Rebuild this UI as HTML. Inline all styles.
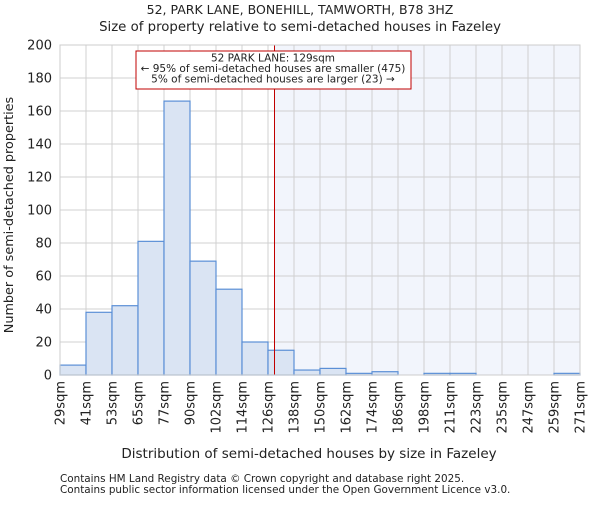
<!DOCTYPE html>
<html><head><meta charset="utf-8"><style>
body{margin:0;background:#fff;}
svg text{font-family:"DejaVu Sans","Liberation Sans",sans-serif;fill:#222;}
</style></head><body>
<svg id="chart" width="600" height="500" viewBox="0 0 600 500">
<text x="300" y="14" font-size="12.5" text-anchor="middle">52, PARK LANE, BONEHILL, TAMWORTH, B78 3HZ</text>
<text x="300" y="31" font-size="13.3" text-anchor="middle">Size of property relative to semi-detached houses in Fazeley</text>
<g id="plot"></g>
<text x="309" y="458" font-size="13.5" text-anchor="middle">Distribution of semi-detached houses by size in Fazeley</text>
<text transform="translate(13,215) rotate(-90)" font-size="12.8" text-anchor="middle">Number of semi-detached properties</text>
<text x="60" y="482" font-size="10.4" fill="#444">Contains HM Land Registry data © Crown copyright and database right 2025.</text>
<text x="60" y="493" font-size="10.4" fill="#444">Contains public sector information licensed under the Open Government Licence v3.0.</text>
</svg>
<script>
const binLabels=["29sqm","41sqm","53sqm","65sqm","77sqm","90sqm","102sqm","114sqm","126sqm","138sqm","150sqm","162sqm","174sqm","186sqm","198sqm","211sqm","223sqm","235sqm","247sqm","259sqm","271sqm"];
const binStarts=[29,41,53,65,77,90,102,114,126,138,150,162,174,186,198,211,223,235,247,259,271];
const counts=[6,38,42,81,166,69,52,20,15,3,4,1,2,0,1,1,0,0,0,1];
const yTicks=[0,20,40,60,80,100,120,140,160,180,200];
const markerSize=129;
const annotLines=["52 PARK LANE: 129sqm","← 95% of semi-detached houses are smaller (475)","5% of semi-detached houses are larger (23) →"];

const NS="http://www.w3.org/2000/svg";
const g=document.getElementById('plot');
const X0=60,X1=580,Y0=375,Y1=45,YMAX=200;
const nb=counts.length;
const bw=(X1-X0)/nb;
const xi=i=>X0+i*bw;
const y=v=>Y0-(v/YMAX)*(Y0-Y1);
function xv(v){for(let i=0;i<nb;i++){if(v>=binStarts[i]&&v<=binStarts[i+1])return xi(i)+bw*(v-binStarts[i])/(binStarts[i+1]-binStarts[i]);}return X1;}
function mk(t,a){const e=document.createElementNS(NS,t);for(const k in a)e.setAttribute(k,a[k]);g.appendChild(e);return e;}
const mx=xv(markerSize);
let e=mk('rect',{x:mx,y:Y1,width:X1-mx,height:Y0-Y1,fill:'#eef2fb',opacity:0.75});


yTicks.forEach(t=>{const l=mk('line',{x1:X0,x2:X1,y1:y(t),y2:y(t),stroke:'#d0d0d0','stroke-width':1});


const tx=mk('text',{x:X0-8,y:y(t)+4.5,'font-size':13,'text-anchor':'end'});tx.textContent=t;

});
for(let i=0;i<=nb;i++){const l=mk('line',{x1:xi(i),x2:xi(i),y1:Y1,y2:Y0,stroke:'#d0d0d0','stroke-width':1});

}
counts.forEach((c,i)=>{if(c<=0)return;const r=mk('rect',{x:xi(i),y:y(c),width:bw,height:Y0-y(c),fill:'#dae4f3',stroke:'#5b8fd6','stroke-width':1.2});

});
binLabels.forEach((lb,i)=>{const t=mk('text',{transform:`translate(${xi(i)+4.5},381) rotate(-90)`,'font-size':13,'text-anchor':'end'});t.textContent=lb;

});
e=mk('line',{x1:mx,x2:mx,y1:Y1,y2:Y0,stroke:'#c00000','stroke-width':1});


e=mk('rect',{x:136,y:51,width:275,height:38,fill:'#fff',stroke:'#c00000','stroke-width':1});


annotLines.forEach((s,k)=>{const t=mk('text',{x:273,y:61.5+k*10.5,'font-size':10.5,'text-anchor':'middle'});t.textContent=s;

});
e=mk('rect',{x:X0,y:Y1,width:X1-X0,height:Y0-Y1,fill:'none',stroke:'#cccccc'});


</script>
</body></html>
